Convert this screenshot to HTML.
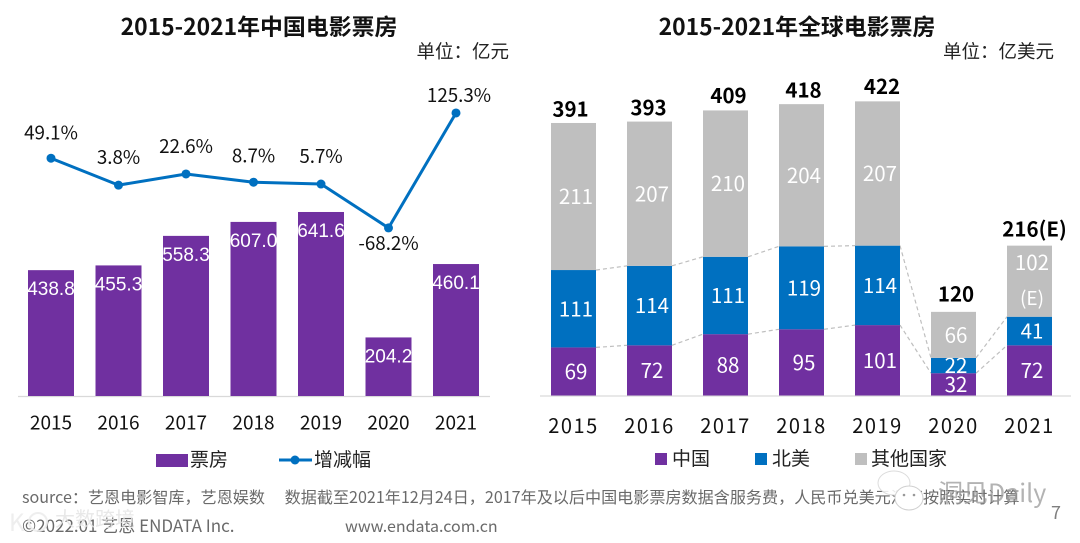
<!DOCTYPE html>
<html lang="zh">
<head>
<meta charset="utf-8">
<title>2015-2021年电影票房</title>
<style>
html,body{margin:0;padding:0;background:#fff;}
body{width:1080px;height:543px;overflow:hidden;}
svg{display:block;}
text{font-family:"Noto Sans CJK SC","Liberation Sans",sans-serif;}
.arial{font-family:"Liberation Sans","Noto Sans CJK SC",sans-serif;}
</style>
</head>
<body>
<svg id="chart" xmlns="http://www.w3.org/2000/svg" width="1080" height="543" viewBox="0 0 1080 543">
  <text x="259" y="35" font-size="22.9" font-weight="700" text-anchor="middle" fill="#111">2015-2021年中国电影票房</text>
  <text x="509" y="58" font-size="18.5" text-anchor="end" fill="#222">单位：亿元</text>
  <text x="797" y="35" font-size="22.9" font-weight="700" text-anchor="middle" fill="#111">2015-2021年全球电影票房</text>
  <text x="1054" y="58" font-size="18.5" text-anchor="end" fill="#222">单位：亿美元</text>
  <g id="left-chart"></g>
  <g id="right-chart"></g>

  <g>
    <rect x="156" y="454" width="32" height="13" fill="#7030A0"/>
    <text x="190" y="461" font-size="19" dominant-baseline="middle" fill="#222">票房</text>
    <line x1="279" y1="460" x2="312" y2="460" stroke="#0070C0" stroke-width="3"/>
    <circle cx="295" cy="460" r="4.5" fill="#0070C0"/>
    <text x="314" y="461" font-size="19" dominant-baseline="middle" fill="#222">增减幅</text>
  </g>
  <g>
    <rect x="655" y="453" width="12" height="12" fill="#7030A0"/>
    <text x="672" y="460" font-size="19" dominant-baseline="middle" fill="#222">中国</text>
    <rect x="755" y="453" width="12" height="12" fill="#0070C0"/>
    <text x="772" y="460" font-size="19" dominant-baseline="middle" fill="#222">北美</text>
    <rect x="855" y="453" width="12" height="12" fill="#BFBFBF"/>
    <text x="871" y="460" font-size="19" dominant-baseline="middle" fill="#222">其他国家</text>
  </g>

  <text x="22" y="503" font-size="16.1" fill="#6a6a6a" xml:space="preserve">source：艺恩电影智库，艺恩娱数　 数据截至2021年12月24日，2017年及以后中国电影票房数据含服务费，人民币兑美元汇率按照实时计算</text>
  <text x="22" y="532" font-size="17" fill="#6a6a6a">©2022.01 艺恩 ENDATA Inc.</text>
  <text x="345" y="532" font-size="16" fill="#6a6a6a">www.endata.com.cn</text>
  <text x="1056" y="519" font-size="18" text-anchor="middle" fill="#7f7f7f">7</text>

  <g>
    <text x="9" y="531" font-size="24" fill="#ececec" fill-opacity="0.9">K</text>
    <circle cx="38" cy="522" r="9" fill="none" stroke="#ececec" stroke-width="2" stroke-opacity="0.9"/>
    <text x="55" y="526" font-size="20" fill="#e4e4e4" fill-opacity="0.85">大数跨境</text>
  </g>
  <g>
    <ellipse cx="894" cy="483" rx="16" ry="12" fill="#fff" fill-opacity="0.85" stroke="#dcdcdc"/>
    <ellipse cx="909" cy="498" rx="14" ry="12" fill="#fff" stroke="#d0d0d0"/>
    <circle cx="904" cy="495" r="1.3" fill="#999"/>
    <circle cx="914" cy="495" r="1.3" fill="#999"/>
    <text x="938" y="502" font-size="25" fill="#9a9a9a" fill-opacity="0.75">洞见Daily</text>
  </g>
</svg>

<script>
const leftYears = ['2015', '2016', '2017', '2018', '2019', '2020', '2021'];
const boxOffice = [438.8, 455.3, 558.3, 607.0, 641.6, 204.2, 460.1];
const growthRates = [49.1, 3.8, 22.6, 8.7, 5.7, -68.2, 125.3];

const rightYears = ['2015', '2016', '2017', '2018', '2019', '2020', '2021'];
const chinaValues = [69, 72, 88, 95, 101, 32, 72];
const northAmericaValues = [111, 114, 111, 119, 114, 22, 41];
const otherValues = [211, 207, 210, 204, 207, 66, 102];
const totalValues = [391, 393, 409, 418, 422, 120, 216];
const totalLabels = ['391', '393', '409', '418', '422', '120', '216(E)'];

const SVG_NS = 'http://www.w3.org/2000/svg';
function make(parent, tag, attrs, content) {
  const el = document.createElementNS(SVG_NS, tag);
  for (const key in attrs) el.setAttribute(key, attrs[key]);
  if (content !== undefined) el.textContent = content;
  parent.appendChild(el);
  return el;
}

/* Left chart */
const leftGroup = document.getElementById('left-chart');
const leftBase = 396;
const leftX = i => 51 + i * 67.5;
const leftBarY = v => leftBase - v * 0.2868;
const leftLineY = v => 187.4 - v * 0.594;
const leftLabelDx = [0, 0, 0, 0, 0, 0, 3];
const leftLabelDy = [-24, -26, -26, -25, -26, 17, -16];

const leftAxis = make(leftGroup, 'line', {x1: 18, x2: 490, y1: leftBase + 0.5, y2: leftBase + 0.5, stroke: '#D9D9D9', 'stroke-width': 1.2});



boxOffice.forEach((v, i) => {
  const bar = make(leftGroup, 'rect', {x: leftX(i) - 23, y: leftBarY(v), width: 46, height: leftBase - leftBarY(v), fill: '#7030A0'});
  
  
  const label = make(leftGroup, 'text', {x: leftX(i), y: leftBarY(v) + 20, 'font-size': 19, 'text-anchor': 'middle', 'dominant-baseline': 'middle', fill: '#fff', class: 'arial'}, v.toFixed(1));
  
  
  const tick = make(leftGroup, 'text', {x: leftX(i), y: 429.5, 'font-size': 19, 'text-anchor': 'middle', fill: '#111'}, leftYears[i]);
  
  
});

const growthLine = make(leftGroup, 'polyline', {
  points: growthRates.map((v, i) => leftX(i) + ',' + leftLineY(v)).join(' '),
  fill: 'none', stroke: '#0070C0', 'stroke-width': 3, 'stroke-linejoin': 'round'
});



growthRates.forEach((v, i) => {
  const dot = make(leftGroup, 'circle', {cx: leftX(i), cy: leftLineY(v), r: 4.5, fill: '#0070C0'});
  
  
  const label = make(leftGroup, 'text', {x: leftX(i) + leftLabelDx[i], y: leftLineY(v) + leftLabelDy[i], 'font-size': 18.8, 'text-anchor': 'middle', 'dominant-baseline': 'middle', fill: '#111'}, v.toFixed(1) + '%');
  
  
});

/* Right chart */
const rightGroup = document.getElementById('right-chart');
const rightBase = 395.5;
const rightScale = 0.697;
const rightX = i => 573.5 + i * 76;
const rightY = v => rightBase - v * rightScale;
const rightBarWidth = 45;
const totalDx = [-3, -1, 3, 2, 4.5, 2.5, 5];
const totalDy = [-12, -12, -13, -12, -13, -16, -14];

const rightAxis = make(rightGroup, 'line', {x1: 540, x2: 1071, y1: rightBase + 0.5, y2: rightBase + 0.5, stroke: '#D9D9D9', 'stroke-width': 1.2});



rightYears.forEach((year, i) => {
  if (i < rightYears.length - 1) {
    const chinaTop = chinaValues[i];
    const chinaNext = chinaValues[i + 1];
    const naTop = chinaValues[i] + northAmericaValues[i];
    const naNext = chinaValues[i + 1] + northAmericaValues[i + 1];
    const c1 = make(rightGroup, 'line', {x1: rightX(i) + rightBarWidth / 2, y1: rightY(chinaTop), x2: rightX(i + 1) - rightBarWidth / 2, y2: rightY(chinaNext), stroke: '#BFBFBF', 'stroke-width': 1.2, 'stroke-dasharray': '4 3'});
    
    
    const c2 = make(rightGroup, 'line', {x1: rightX(i) + rightBarWidth / 2, y1: rightY(naTop), x2: rightX(i + 1) - rightBarWidth / 2, y2: rightY(naNext), stroke: '#BFBFBF', 'stroke-width': 1.2, 'stroke-dasharray': '4 3'});
    
    
  }
});

const rightSeries = [
  {key: 'china', values: chinaValues, color: '#7030A0'},
  {key: 'north-america', values: northAmericaValues, color: '#0070C0'},
  {key: 'other', values: otherValues, color: '#BFBFBF'}
];

rightYears.forEach((year, i) => {
  let stack = 0;
  rightSeries.forEach(series => {
    const v = series.values[i];
    const y1 = rightY(stack + v);
    const y0 = rightY(stack);
    const seg = make(rightGroup, 'rect', {x: rightX(i) - rightBarWidth / 2, y: y1, width: rightBarWidth, height: y0 - y1, fill: series.color});
    
    
    const isEstimate = series.key === 'other' && i === rightYears.length - 1;
    const labelY = isEstimate ? y1 + 19 : (y0 + y1) / 2 + 2;
    const label = make(rightGroup, 'text', {x: rightX(i) + 2.5, y: labelY, 'font-size': 20.5, 'text-anchor': 'middle', 'dominant-baseline': 'middle', fill: '#fff'}, String(v));
    
    
    if (isEstimate) {
      const est = make(rightGroup, 'text', {x: rightX(i) + 2.5, y: labelY + 35, 'font-size': 19, 'text-anchor': 'middle', 'dominant-baseline': 'middle', fill: '#fff'}, '(E)');
      
      
    }
    stack += v;
  });
  const total = make(rightGroup, 'text', {x: rightX(i) + totalDx[i], y: rightY(totalValues[i]) + totalDy[i], 'font-size': 20.5, 'font-weight': 700, 'text-anchor': 'middle', 'dominant-baseline': 'middle', fill: '#000'}, totalLabels[i]);
  
  
  const tick = make(rightGroup, 'text', {x: rightX(i), y: 433, 'font-size': 20, 'letter-spacing': 1.5, 'text-anchor': 'middle', fill: '#111'}, year);
  
  
});
</script>
</body>
</html>
